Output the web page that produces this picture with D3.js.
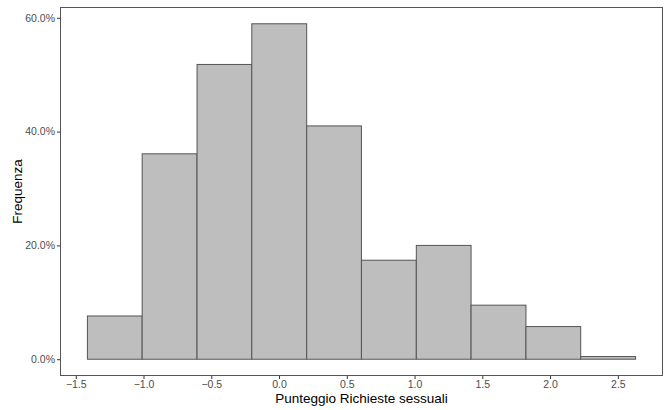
<!DOCTYPE html>
<html>
<head>
<meta charset="utf-8">
<script src="https://cdn.jsdelivr.net/npm/d3@7"></script>
<style>
  html, body { margin: 0; padding: 0; background: #fff; }
  svg { display: block; font-family: "Liberation Sans", Arial, sans-serif; }
</style>
</head>
<body>
<svg id="chart" width="664" height="410"></svg>
<script>
// Histogram bins (edges) of the score and the share in each bin (%)
const binEdges = [-1.414, -1.010, -0.605, -0.201, 0.204, 0.608, 1.013, 1.417, 1.822, 2.226, 2.631];
const binValues = [7.6, 36.1, 51.8, 58.95, 41.0, 17.4, 20.0, 9.5, 5.74, 0.47];
const xTicks = [-1.5, -1.0, -0.5, 0.0, 0.5, 1.0, 1.5, 2.0, 2.5];
const yTicks = [0, 20, 40, 60];

const xTitle = "Punteggio Richieste sessuali";
const yTitle = "Frequenza";

const svg = d3.select("#chart");
const panel = { left: 60, right: 663, top: 7, bottom: 376 };

// 5% expansion on both axes
const xMin = binEdges[0], xMax = binEdges[binEdges.length - 1];
const xPad = (xMax - xMin) * 0.05;
const x = d3.scaleLinear()
  .domain([xMin - xPad, xMax + xPad])
  .range([panel.left, panel.right]);

const yMax = d3.max(binValues);
const yPad = yMax * 0.05;
const y = d3.scaleLinear()
  .domain([-yPad, yMax + yPad])
  .range([panel.bottom, panel.top]);

const bins = binValues.map((v, i) => ({ x0: binEdges[i], x1: binEdges[i + 1], v }));

// Bars
svg.append("g")
  .selectAll("rect")
  .data(bins)
  .join("rect")
  .attr("x", d => x(d.x0))
  .attr("width", d => x(d.x1) - x(d.x0))
  .attr("y", d => y(d.v))
  .attr("height", d => y(0) - y(d.v))
  .attr("fill", "#bebebe")
  .attr("stroke", "#555")
  .attr("stroke-width", 1);

// Panel border
svg.append("rect")
  .attr("x", panel.left + 0.5)
  .attr("y", panel.top + 0.5)
  .attr("width", panel.right - panel.left - 1)
  .attr("height", panel.bottom - panel.top - 1)
  .attr("fill", "none")
  .attr("stroke", "#555")
  .attr("stroke-width", 1);

// X axis
const xAxis = d3.axisBottom(x)
  .tickValues(xTicks)
  .tickFormat(d3.format(".1f"))
  .tickSize(3)
  .tickPadding(2);
const gx = svg.append("g")
  .attr("transform", `translate(0,${panel.bottom})`)
  .call(xAxis);
gx.select(".domain").remove();
gx.selectAll(".tick line").attr("stroke", "#333");
gx.selectAll(".tick text")
  .attr("fill", "#4d4d4d")
  .style("font-size", "10.5px")
  .style("font-family", "'Liberation Sans', Arial, sans-serif");

// Y axis
const yAxis = d3.axisLeft(y)
  .tickValues(yTicks)
  .tickFormat(d => d3.format(".1f")(d) + "%")
  .tickSize(3)
  .tickPadding(2);
const gy = svg.append("g")
  .attr("transform", `translate(${panel.left},0)`)
  .call(yAxis);
gy.select(".domain").remove();
gy.selectAll(".tick line").attr("stroke", "#333");
gy.selectAll(".tick text")
  .attr("fill", "#4d4d4d")
  .style("font-size", "10.5px")
  .style("font-family", "'Liberation Sans', Arial, sans-serif");

// Axis titles
svg.append("text")
  .attr("x", (panel.left + panel.right) / 2)
  .attr("y", 403)
  .attr("text-anchor", "middle")
  .attr("fill", "#000")
  .style("font-size", "13.5px")
  .text(xTitle);

svg.append("text")
  .attr("transform", `translate(22,${(panel.top + panel.bottom) / 2}) rotate(-90)`)
  .attr("text-anchor", "middle")
  .attr("fill", "#000")
  .style("font-size", "13.5px")
  .text(yTitle);
</script>
</body>
</html>
